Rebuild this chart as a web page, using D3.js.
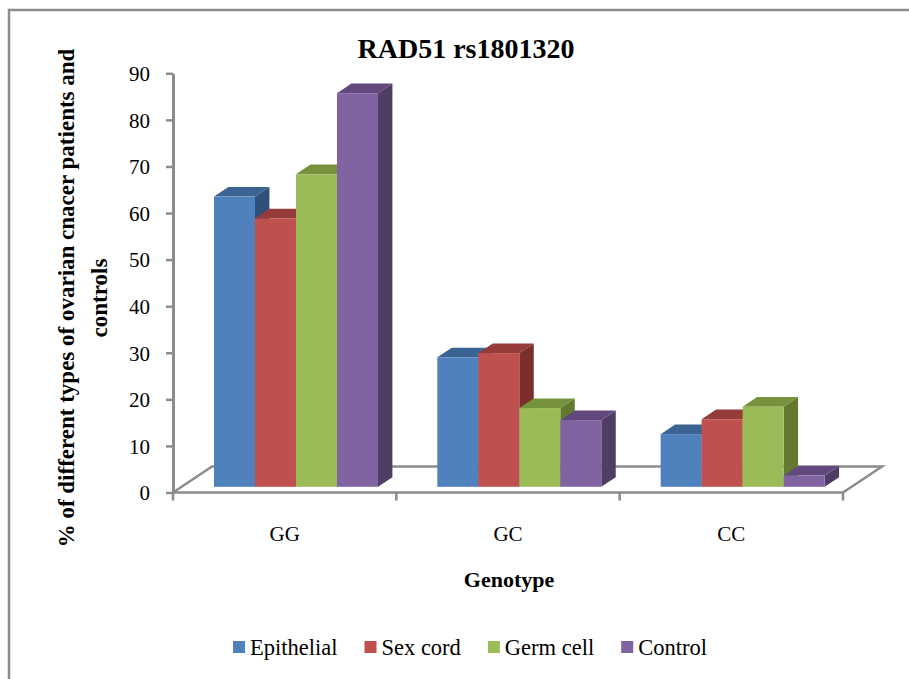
<!DOCTYPE html>
<html>
<head>
<meta charset="utf-8">
<script src="https://cdn.jsdelivr.net/npm/d3@7/dist/d3.min.js"></script>
<style>
  html, body { margin: 0; padding: 0; background: #fff; }
  svg { display: block; }
  text { font-family: "Liberation Serif", "Times New Roman", Times, serif; fill: #000; }
</style>
</head>
<body>
<svg id="chart" width="909" height="679"></svg>
<script>
// Genotype groups and series
const genotypes = ["GG", "GC", "CC"];
const seriesNames = ["Epithelial", "Sex cord", "Germ cell", "Control"];

// Percent of each group per genotype
const epithelial = [62.3, 27.8, 11.3];
const sexCord    = [57.6, 28.7, 14.5];
const germCell   = [67.1, 16.9, 17.2];
const control    = [84.5, 14.3, 2.4];
const seriesValues = [epithelial, sexCord, germCell, control];

const yTicks = [0, 10, 20, 30, 40, 50, 60, 70, 80, 90];

// Office-style palette: front, top, side shades
const palette = [
  { front: "#4F81BD", top: "#3B6494", side: "#2F5179" },
  { front: "#C0504D", top: "#953B39", side: "#7B2F2D" },
  { front: "#9BBB59", top: "#77923D", side: "#62792F" },
  { front: "#8064A2", top: "#61497D", side: "#4F3D66" }
];

const svg = d3.select("#chart");
const axisGrey = "#8C8C8C";

// Outer frame (left and top edges)
svg.append("path")
  .attr("d", "M9,679 L9,10 L909,10")
  .attr("fill", "none").attr("stroke", axisGrey).attr("stroke-width", 2.5);

// Plot geometry: front edge of the floor and its oblique depth vector
const left = 173, right = 843;
const DX = 39, DY = 26;            // depth offset for the back of the floor
const zFront = 0.22, zBack = 0.59; // depth of bar front and back faces

const y = d3.scaleLinear().domain([0, 90]).range([492.5, 73.3]);
const x0 = d3.scaleBand().domain(genotypes).range([left, right]);
const x1 = d3.scaleBand().domain(seriesNames).range([32.4, 32.4 + 164]);

// Floor outline
const y0 = y(0);
svg.append("path")
  .attr("d", `M${left},${y0} L${left + DX},${y0 - DY} L${right + DX},${y0 - DY} L${right},${y0} Z`)
  .attr("fill", "none").attr("stroke", axisGrey).attr("stroke-width", 2.5)
  .attr("stroke-linejoin", "miter");

// Category ticks along the front edge
const boundaries = genotypes.map(g => x0(g)).concat([right]);
svg.append("g").selectAll("line").data(boundaries).join("line")
  .attr("x1", d => d).attr("x2", d => d)
  .attr("y1", y0).attr("y2", y0 + 8)
  .attr("stroke", axisGrey).attr("stroke-width", 2.5);

// Category labels
svg.append("g").selectAll("text").data(genotypes).join("text")
  .attr("x", d => x0(d) + x0.bandwidth() / 2)
  .attr("y", 541)
  .attr("text-anchor", "middle")
  .attr("font-size", 21)
  .text(d => d);

// Value axis
const yAxis = svg.append("g")
  .attr("transform", `translate(${left},0)`)
  .call(d3.axisLeft(y).tickValues(yTicks).tickSize(7).tickPadding(16).tickSizeOuter(0));
yAxis.select(".domain").attr("stroke", axisGrey).attr("stroke-width", 3);
yAxis.selectAll(".tick line").attr("stroke", axisGrey).attr("stroke-width", 2.5);
yAxis.selectAll(".tick text")
  .attr("font-size", 21).attr("fill", "#000").attr("dy", "0.35em");

// 3D columns, drawn left to right so each front face covers the previous side
const bars = svg.append("g");
genotypes.forEach((g, gi) => {
  seriesNames.forEach((s, si) => {
    const v = seriesValues[si][gi];
    const xl = x0(g) + x1(s);
    const w = x1.bandwidth();
    const yv = y(v);
    const fx = zFront * DX, fy = zFront * DY;
    const bx = zBack * DX, by = zBack * DY;
    const c = palette[si];
    // side face
    bars.append("polygon")
      .attr("points", [
        [xl + w + fx, yv - fy], [xl + w + bx, yv - by],
        [xl + w + bx, y0 - by], [xl + w + fx, y0 - fy]
      ].map(p => p.join(",")).join(" "))
      .attr("fill", c.side);
    // top face
    bars.append("polygon")
      .attr("points", [
        [xl + fx, yv - fy], [xl + w + fx, yv - fy],
        [xl + w + bx, yv - by], [xl + bx, yv - by]
      ].map(p => p.join(",")).join(" "))
      .attr("fill", c.top);
    // front face
    bars.append("rect")
      .attr("x", xl + fx).attr("y", yv - fy)
      .attr("width", w).attr("height", y0 - yv)
      .attr("fill", c.front);
  });
});

// Title
svg.append("text")
  .attr("x", 466).attr("y", 58)
  .attr("text-anchor", "middle")
  .attr("font-size", 28).attr("font-weight", "bold")
  .text("RAD51 rs1801320");

// Axis titles
svg.append("text")
  .attr("x", 509).attr("y", 587)
  .attr("text-anchor", "middle")
  .attr("font-size", 22).attr("font-weight", "bold")
  .text("Genotype");

const yTitle = svg.append("text")
  .attr("transform", "translate(74,298) rotate(-90)")
  .attr("text-anchor", "middle")
  .attr("font-size", 23).attr("font-weight", "bold");
yTitle.append("tspan").attr("x", 0).attr("y", 0)
  .text("% of different types of ovarian cnacer patients and");
yTitle.append("tspan").attr("x", 0).attr("y", 33)
  .text("controls");

// Legend
const legend = svg.append("g");
let lx = 0;
seriesNames.forEach((s, i) => {
  const item = legend.append("g").attr("transform", `translate(${lx},0)`);
  item.append("rect").attr("x", 0).attr("y", 641).attr("width", 12).attr("height", 12)
    .attr("fill", palette[i].front);
  const t = item.append("text").attr("x", 17).attr("y", 655)
    .attr("font-size", 22.5).text(s);
  lx += 17 + t.node().getComputedTextLength() + 27;
});
const legendWidth = lx - 27;
legend.attr("transform", `translate(${470 - legendWidth / 2},0)`);
</script>
</body>
</html>
